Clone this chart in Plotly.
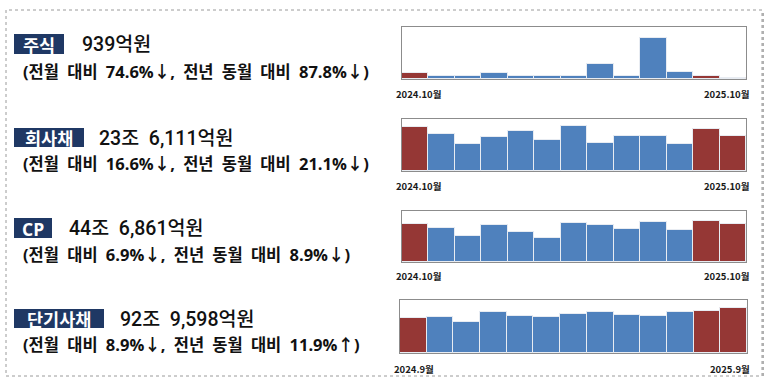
import plotly.graph_objects as go

# ---------------- data ----------------
months = list(range(13))
stock = [7697, 4530, 4530, 7700, 4530, 4530, 3624, 20840, 3624, 56630, 9510, 3697, 939]
corp = [299253, 249000, 179500, 226600, 271500, 210900, 300700, 190700, 233400, 233400, 184000, 283107, 236111]
cp = [447100, 404000, 302000, 435300, 353000, 286300, 462800, 435300, 388300, 466700, 380400, 479980, 446861]
stb = [733300, 754100, 636500, 844000, 761000, 747100, 809400, 850900, 795600, 761000, 844000, 864800, 929598]
highlight = [1, 0, 0, 0, 0, 0, 0, 0, 0, 0, 0, 1, 1]

names = ["주식", "회사채", "CP", "단기사채"]
totals = ["939억원", "23조  6,111억원", "44조  6,861억원", "92조  9,598억원"]
changes = ["(전월 대비 74.6%↓, 전년 동월 대비 87.8%↓)",
           "(전월 대비 16.6%↓, 전년 동월 대비 21.1%↓)",
           "(전월 대비 6.9%↓, 전년 동월 대비 8.9%↓)",
           "(전월 대비 8.9%↓, 전년 동월 대비 11.9%↑)"]
start_labels = ["2024.10월", "2024.10월", "2024.10월", "2024.9월"]
end_labels = ["2025.10월", "2025.10월", "2025.10월", "2025.9월"]
series = [stock, corp, cp, stb]
yranges = [71000, 350000, 600000, 1100000]

# ---------------- layout helpers ----------------
W, H = 769, 382
def px(x):
    return x / W
def py(y):
    return 1 - y / H

RED = "#953735"
BLUE = "#4F81BD"
NAVY = "#1F3864"
FONT = "Open Sans, Noto Sans CJK KR"
VFONT = "Roboto, Noto Sans CJK KR"
KFONT = "Noto Sans CJK KR"

# chart boxes in pixels: (x0, x1, ytop, ybottom)
boxes = [(402, 746, 27, 79), (402, 746, 119, 171), (402, 746, 211, 262), (400, 747, 300, 353)]
label_y = [94, 186, 276, 369]
# left text blocks: label box (x0, x1, y0, y1), value x, subtitle y
lab_boxes = [(14, 64, 34, 54), (14, 84, 128, 147), (14, 52, 218, 238), (14, 104, 309, 328)]
value_x = [80, 97, 67, 118]
sub_y = [71, 163, 254, 344]

fig = go.Figure()
shapes = []
annotations = []

for i in range(4):
    x0, x1, yt, yb = boxes[i]
    xa = "x" if i == 0 else f"x{i+1}"
    ya = "y" if i == 0 else f"y{i+1}"
    colors = [RED if h else BLUE for h in highlight]
    fig.add_trace(go.Bar(x=months, y=series[i], xaxis=xa, yaxis=ya,
                         marker=dict(color=colors, line=dict(color="#e8ecf2", width=1)),
                         showlegend=False, hoverinfo="skip"))
    axkey = "xaxis" if i == 0 else f"xaxis{i+1}"
    aykey = "yaxis" if i == 0 else f"yaxis{i+1}"
    fig.layout[axkey] = dict(domain=[px(x0), px(x1)], anchor=ya, range=[-0.5, 12.5],
                             showticklabels=False, ticks="", showgrid=False, zeroline=False,
                             showline=True, linecolor="#8c8c8c", linewidth=1, mirror=True,
                             layer="below traces", fixedrange=True)
    fig.layout[aykey] = dict(domain=[py(yb), py(yt)], anchor=xa, range=[0, yranges[i]],
                             showticklabels=False, ticks="", showgrid=False, zeroline=False,
                             showline=True, linecolor="#8c8c8c", linewidth=1, mirror=True,
                             layer="below traces", fixedrange=True)
    # period labels
    annotations.append(dict(x=px(x0 - 8), y=py(label_y[i]), xref="paper", yref="paper",
                            text=f"<b>{start_labels[i]}</b>", showarrow=False,
                            xanchor="left", yanchor="middle",
                            font=dict(family=KFONT, size=9.5, color="#1a1a1a")))
    annotations.append(dict(x=px(x1 + 5), y=py(label_y[i]), xref="paper", yref="paper",
                            text=f"<b>{end_labels[i]}</b>", showarrow=False,
                            xanchor="right", yanchor="middle",
                            font=dict(family=KFONT, size=9.5, color="#1a1a1a")))
    # left text block
    bx0, bx1, by0, by1 = lab_boxes[i]
    shapes.append(dict(type="rect", xref="paper", yref="paper",
                       x0=px(bx0), x1=px(bx1), y0=py(by1), y1=py(by0),
                       fillcolor=NAVY, line=dict(width=0), layer="below"))
    annotations.append(dict(x=px((bx0 + bx1) / 2), y=py((by0 + by1) / 2 + 0.5), xref="paper", yref="paper",
                            text=f"<b>{names[i]}</b>", showarrow=False,
                            xanchor="center", yanchor="middle",
                            font=dict(family=FONT, size=17.5, color="white")))
    annotations.append(dict(x=px(value_x[i]), y=py((by0 + by1) / 2 + 0.5), xref="paper", yref="paper",
                            text=totals[i], showarrow=False,
                            xanchor="left", yanchor="middle",
                            font=dict(family=VFONT, size=19.5, color="#111", weight=500)))
    annotations.append(dict(x=px(21), y=py(sub_y[i]), xref="paper", yref="paper",
                            text="<b>" + changes[i].replace(" ", "\u2002") + "</b>", showarrow=False,
                            xanchor="left", yanchor="middle",
                            font=dict(family=FONT, size=16.5, color="#111")))

# outer dotted frame
shapes.append(dict(type="rect", xref="paper", yref="paper",
                   x0=px(6), x1=px(762), y0=py(376), y1=py(10),
                   line=dict(color="#9a9a9a", width=1, dash="dot"), layer="below"))
shapes.append(dict(type="line", xref="paper", yref="paper",
                   x0=px(763), x1=px(763), y0=py(376), y1=py(10),
                   line=dict(color="#b0b0b0", width=2, dash="dot"), layer="below"))

fig.update_layout(width=W, height=H, margin=dict(l=0, r=0, t=0, b=0),
                  paper_bgcolor="white", plot_bgcolor="white",
                  bargap=0, shapes=shapes, annotations=annotations,
                  font=dict(family=FONT))

fig.write_html("out.html", config={"displayModeBar": False},
               post_script="document.body.style.margin='0';document.body.style.overflow='hidden';")
